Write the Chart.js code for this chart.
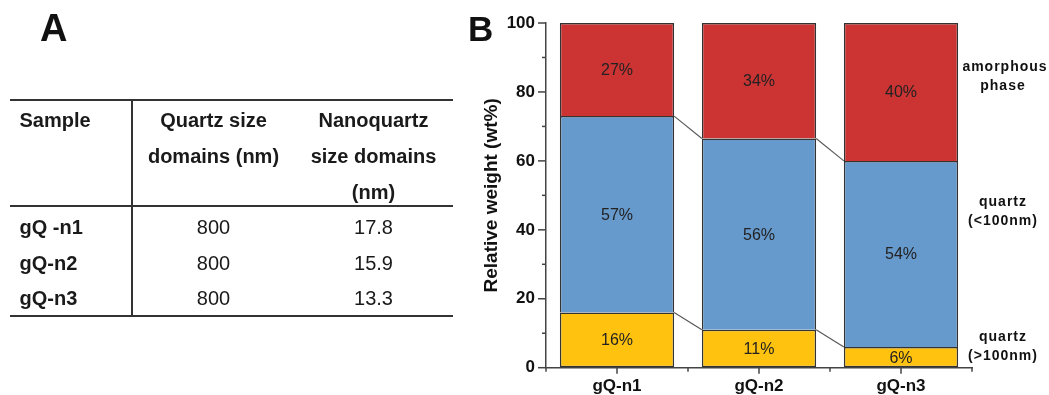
<!DOCTYPE html>
<html><head><meta charset="utf-8">
<script src="https://cdn.jsdelivr.net/npm/chart.js@4.4.1/dist/chart.umd.min.js"></script>
<style>
html,body{margin:0;padding:0;background:#fff;}
#wrap{position:relative;width:1049px;height:395px;overflow:hidden;font-family:"Liberation Sans",Arial,sans-serif;color:#1a1a1a;}
#c{position:absolute;left:0;top:0;}
.t{position:absolute;font-size:20px;line-height:20px;white-space:nowrap;}
.c{text-align:center;width:220px;}
.b{font-weight:bold;}
.ln{position:absolute;background:#333;}
.panel{position:absolute;font-weight:bold;white-space:nowrap;color:#111;}
</style></head><body>
<div id="wrap"><canvas id="c" width="1049" height="395"></canvas></div>
<script>
// ---- data ----
const categories = ['gQ-n1', 'gQ-n2', 'gQ-n3'];
const seriesNames = ['quartz (>100nm)', 'quartz (<100nm)', 'amorphous phase'];
const quartzLarge = [16, 11, 6];        // quartz (>100nm), wt%
const quartzNano = [57, 55.5, 54];      // quartz (<100nm), wt%
const amorphous = [27, 33.5, 40];       // amorphous phase, wt%
const yTickLabels = [0, 20, 40, 60, 80, 100];
const tableHeader = [['Sample'], ['Quartz size', 'domains (nm)'], ['Nanoquartz', 'size domains', '(nm)']];
const tableSamples = ['gQ -n1', 'gQ-n2', 'gQ-n3'];
const quartzDomains = ['800', '800', '800'];
const nanoquartzDomains = ['17.8', '15.9', '13.3'];

const FONT = '"Liberation Sans", Arial, sans-serif';
const wrap = document.getElementById('wrap');

function addDiv(cls, text, styles) {
  const d = document.createElement('div');
  d.className = cls;
  if (text !== null) d.textContent = text;
  Object.assign(d.style, styles);
  wrap.appendChild(d);
  return d;
}

// ---- panel letters ----
addDiv('panel', 'A', {left: '40px', top: '9px', fontSize: '38px', lineHeight: '38px'});
addDiv('panel', 'B', {left: '468px', top: '10.5px', fontSize: '35px', lineHeight: '35px'});

// ---- table (panel A) ----
addDiv('ln', null, {left: '10px', top: '99px', width: '443px', height: '2px'});
addDiv('ln', null, {left: '10px', top: '205px', width: '443px', height: '2px'});
addDiv('ln', null, {left: '10px', top: '315px', width: '443px', height: '2px'});
addDiv('ln', null, {left: '131px', top: '99px', width: '2px', height: '218px'});

const colCenters = [null, 213.5, 373.5];
const headRow0 = 120.2, headStep = 36;
tableHeader.forEach((lines, ci) => {
  lines.forEach((txt, li) => {
    const cy = headRow0 + li * headStep;
    if (ci === 0) addDiv('t b', txt, {left: '19.5px', top: (cy - 10) + 'px'});
    else addDiv('t b c', txt, {left: (colCenters[ci] - 110) + 'px', top: (cy - 10) + 'px'});
  });
});
const dataRow0 = 226.7, dataStep = 35.8;
tableSamples.forEach((s, i) => {
  const cy = dataRow0 + i * dataStep;
  addDiv('t b', s, {left: '19.5px', top: (cy - 10) + 'px'});
  addDiv('t c', quartzDomains[i], {left: (colCenters[1] - 110) + 'px', top: (cy - 10) + 'px'});
  addDiv('t c', nanoquartzDomains[i], {left: (colCenters[2] - 110) + 'px', top: (cy - 10) + 'px'});
});

// ---- chart (panel B) ----
const overlay = {
  id: 'overlay',
  afterDatasetsDraw(chart) {
    const ctx = chart.ctx;
    ctx.save();
    // connector lines between stacked boundaries
    ctx.strokeStyle = '#555';
    ctx.lineWidth = 1.1;
    [0, 1].forEach(di => {
      const els = chart.getDatasetMeta(di).data;
      for (let i = 0; i < els.length - 1; i++) {
        const a = els[i], b = els[i + 1];
        ctx.beginPath();
        ctx.moveTo(a.x + a.width / 2, a.y);
        ctx.lineTo(b.x - b.width / 2, b.y);
        ctx.stroke();
      }
    });
    // value labels
    ctx.font = '16px ' + FONT;
    ctx.fillStyle = '#222';
    ctx.textAlign = 'center';
    ctx.textBaseline = 'middle';
    chart.data.datasets.forEach((ds, di) => {
      chart.getDatasetMeta(di).data.forEach((el, i) => {
        ctx.fillText(Math.round(ds.data[i]) + '%', el.x, (el.y + el.base) / 2 + 1);
      });
    });
    ctx.restore();
  },
  afterDraw(chart) {
    const ctx = chart.ctx, xs = chart.scales.x, ys = chart.scales.y, ca = chart.chartArea;
    ctx.save();
    ctx.strokeStyle = '#444';
    ctx.lineWidth = 1.5;
    // y ticks (major every 20, minor every 10)
    for (let v = 0; v <= 100; v += 10) {
      const y = ys.getPixelForValue(v);
      const len = yTickLabels.includes(v) ? 8 : 4;
      ctx.beginPath(); ctx.moveTo(ca.left - len, y); ctx.lineTo(ca.left, y); ctx.stroke();
    }
    // x ticks: major at categories, minor at boundaries
    for (let i = 0; i < categories.length; i++) {
      const x = xs.getPixelForValue(i);
      ctx.beginPath(); ctx.moveTo(x, ca.bottom); ctx.lineTo(x, ca.bottom + 6); ctx.stroke();
    }
    for (let i = 0; i <= categories.length; i++) {
      const x = xs.getPixelForValue(i - 0.5);
      ctx.beginPath(); ctx.moveTo(x, ca.bottom); ctx.lineTo(x, ca.bottom + 4); ctx.stroke();
    }
    // series labels at right
    ctx.font = 'bold 14px ' + FONT;
    ctx.fillStyle = '#111';
    ctx.textAlign = 'center';
    ctx.textBaseline = 'middle';
    try { ctx.letterSpacing = '1px'; } catch (e) {}
    const lx = ca.right + 31;
    const anchors = [6.1, 45.3, 84.4];
    seriesNames.forEach((name, k) => {
      const cy = ys.getPixelForValue(anchors[k]);
      let lines;
      if (k === 2) lines = ['amorphous', 'phase'];
      else { const p = name.indexOf(' ('); lines = [name.slice(0, p), name.slice(p + 1)]; }
      ctx.fillText(lines[0], lx + (k === 2 ? 2 : 0), cy - 9.5);
      ctx.fillText(lines[1], lx, cy + 9.5);
    });
    ctx.restore();
  }
};

const tickFont = {family: FONT, size: 17, weight: 'bold'};
new Chart(document.getElementById('c'), {
  type: 'bar',
  data: {
    labels: categories,
    datasets: [
      {label: seriesNames[0], data: quartzLarge, backgroundColor: '#FFC20E',
       borderWidth: {top: 1.5, left: 1.5, right: 1.5, bottom: 1.5}},
      {label: seriesNames[1], data: quartzNano, backgroundColor: '#6699CC',
       borderWidth: {top: 1.5, left: 1.5, right: 1.5, bottom: 0}},
      {label: seriesNames[2], data: amorphous, backgroundColor: '#CC3333',
       borderWidth: {top: 1.5, left: 1.5, right: 1.5, bottom: 0}}
    ]
  },
  options: {
    responsive: false,
    animation: false,
    devicePixelRatio: 1,
    layout: {padding: {left: 460, right: 77, top: 23, bottom: 0}},
    datasets: {bar: {categoryPercentage: 1, barPercentage: 0.805, borderColor: '#333', borderSkipped: false}},
    plugins: {legend: {display: false}, tooltip: {enabled: false}},
    scales: {
      x: {
        stacked: true, offset: true,
        grid: {display: true, drawOnChartArea: false, drawTicks: false},
        border: {display: true, color: '#444', width: 1.5},
        ticks: {padding: 8, color: '#111', font: tickFont},
        afterFit(s) { s.height = 27.3; }
      },
      y: {
        stacked: true, min: 0, max: 100,
        grid: {display: true, drawOnChartArea: false, drawTicks: false},
        border: {display: true, color: '#444', width: 1.5},
        ticks: {stepSize: 10, autoSkip: false, padding: 11, color: '#111', font: tickFont,
                callback: v => yTickLabels.includes(v) ? String(v) : ''},
        title: {display: true, text: 'Relative weight (wt%)', color: '#111',
                font: {family: FONT, size: 19, weight: 'bold'}, padding: {top: 20, bottom: 0}},
        afterFit(s) { s.width = 86; }
      }
    }
  },
  plugins: [overlay]
});
</script>
</body></html>
